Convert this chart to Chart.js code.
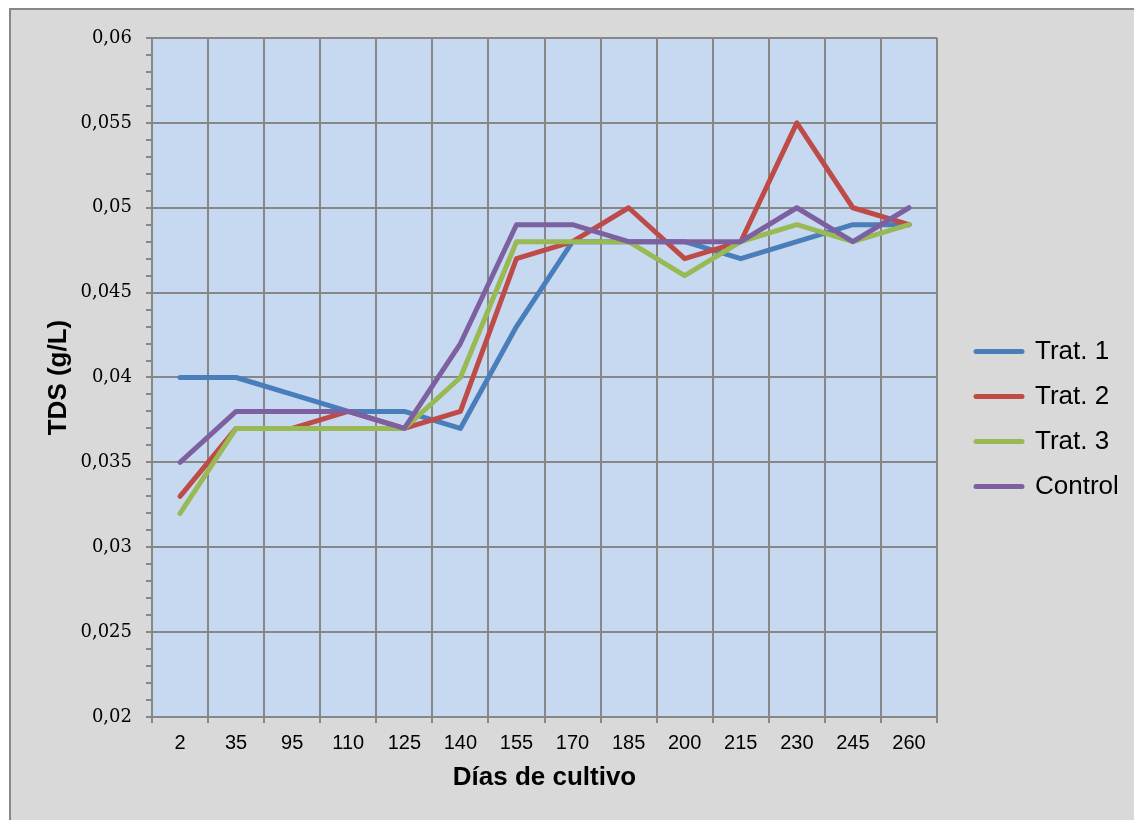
<!DOCTYPE html>
<html>
<head>
<meta charset="utf-8">
<title>TDS (g/L) – Días de cultivo</title>
<script src="https://cdn.jsdelivr.net/npm/chart.js@4.4.1/dist/chart.umd.min.js"></script>
<style>
  html, body { margin: 0; padding: 0; background: #ffffff; }
  #wrap { position: relative; width: 1134px; height: 820px; }
</style>
</head>
<body>
<div id="wrap"><canvas id="c" width="1134" height="820"></canvas></div>
<script>
// Días de cultivo (category axis)
const dias = ['2', '35', '95', '110', '125', '140', '155', '170', '185', '200', '215', '230', '245', '260'];

// TDS (g/L) per treatment
const trat1   = [0.040, 0.040, 0.039, 0.038, 0.038, 0.037, 0.043, 0.048, 0.048, 0.048, 0.047, 0.048, 0.049, 0.049];
const trat2   = [0.033, 0.037, 0.037, 0.038, 0.037, 0.038, 0.047, 0.048, 0.050, 0.047, 0.048, 0.055, 0.050, 0.049];
const trat3   = [0.032, 0.037, 0.037, 0.037, 0.037, 0.040, 0.048, 0.048, 0.048, 0.046, 0.048, 0.049, 0.048, 0.049];
const control = [0.035, 0.038, 0.038, 0.038, 0.037, 0.042, 0.049, 0.049, 0.048, 0.048, 0.048, 0.050, 0.048, 0.050];

// Y axis: labelled major ticks every 0.005, minor marks every 0.001
const yMin = 0.02, yMax = 0.06, yMinorStep = 0.001, minorPerMajor = 5;
const yTickLabels = ['0,02', '0,025', '0,03', '0,035', '0,04', '0,045', '0,05', '0,055', '0,06'];

const GRID = '#878787';
const FRAME_BG = '#d9d9d9';
const PLOT_BG = '#c6d9f1';

// Outer frame and plot background
const backgrounds = {
  id: 'backgrounds',
  beforeDraw(chart) {
    const { ctx, width, height, chartArea } = chart;
    ctx.save();
    ctx.fillStyle = '#ffffff';
    ctx.fillRect(0, 0, width, height);
    ctx.fillStyle = FRAME_BG;
    ctx.fillRect(9, 8, width - 9, height - 8);
    ctx.strokeStyle = GRID;
    ctx.lineWidth = 2;
    ctx.beginPath();
    ctx.moveTo(10, height);
    ctx.lineTo(10, 9);
    ctx.lineTo(width, 9);
    ctx.stroke();
    ctx.fillStyle = PLOT_BG;
    ctx.fillRect(chartArea.left, chartArea.top, chartArea.right - chartArea.left, chartArea.bottom - chartArea.top);
    ctx.restore();
  }
};

// Legend box: fixed width beside the plot, entries nudged into place
const LEGEND_WIDTH = 197;
const legendPlacement = {
  id: 'legendPlacement',
  afterInit(chart) {
    const legend = chart.legend;
    const fit = legend.fit;
    legend.fit = function () {
      fit.call(this);
      this.width = LEGEND_WIDTH;
    };
  },
  afterLayout(chart) {
    const legend = chart.legend;
    legend.left += 20;
    legend.right += 20;
    legend.top -= 10;
    legend.bottom -= 10;
  }
};

function series(label, data, color, order) {
  return {
    label, data, order,
    borderColor: color,
    backgroundColor: color,
    borderWidth: 5,
    borderCapStyle: 'round',
    borderJoinStyle: 'round',
    pointRadius: 0,
    pointHoverRadius: 0,
    tension: 0,
    fill: false
  };
}

new Chart(document.getElementById('c'), {
  type: 'line',
  data: {
    labels: dias,
    datasets: [
      series('Trat. 1', trat1, '#4a7ebb', 3),
      series('Trat. 2', trat2, '#be4b48', 2),
      series('Trat. 3', trat3, '#98b954', 1),
      series('Control', control, '#7d60a0', 0)
    ]
  },
  options: {
    responsive: false,
    animation: false,
    events: [],
    layout: { padding: { top: 38, right: 0, bottom: 0, left: 0 } },
    plugins: {
      tooltip: { enabled: false },
      legend: {
        position: 'right',
        align: 'center',
        labels: {
          usePointStyle: true,
          pointStyle: 'line',
          pointStyleWidth: 46,
          boxHeight: 26,
          padding: 19,
          color: '#000000',
          font: { family: '"Liberation Sans", Arial, sans-serif', size: 26 },
          sort: (a, b) => a.datasetIndex - b.datasetIndex,
          generateLabels(chart) {
            return Chart.defaults.plugins.legend.labels.generateLabels(chart).map(item => {
              item.lineCap = 'round';
              item.lineWidth = 5;
              return item;
            });
          }
        }
      }
    },
    scales: {
      x: {
        type: 'category',
        offset: true,
        afterFit(scale) { scale.height = 103; },
        grid: {
          offset: true,
          color: GRID,
          lineWidth: 2,
          tickLength: 6,
          tickColor: GRID,
          tickWidth: 2
        },
        border: { color: GRID, width: 2 },
        ticks: {
          color: '#000000',
          padding: 8,
          maxRotation: 0,
          autoSkip: false,
          font: { family: '"Liberation Sans", Arial, sans-serif', size: 20 }
        },
        title: {
          display: true,
          text: 'Días de cultivo',
          color: '#000000',
          padding: { top: 0, bottom: 27 },
          font: { family: '"Liberation Sans", Arial, sans-serif', size: 26, weight: 'bold' }
        }
      },
      y: {
        min: yMin,
        max: yMax,
        afterFit(scale) { scale.width = 152; },
        afterBuildTicks(scale) {
          const count = Math.round((yMax - yMin) / yMinorStep);
          const ticks = [];
          for (let i = 0; i <= count; i++) {
            ticks.push({ value: +(yMin + i * yMinorStep).toFixed(3) });
          }
          scale.ticks = ticks;
        },
        grid: {
          color: (c) => (c.index % minorPerMajor === 0 ? GRID : 'rgba(0,0,0,0)'),
          lineWidth: 2,
          tickLength: 6,
          tickColor: GRID,
          tickWidth: 2
        },
        border: { color: GRID, width: 2 },
        ticks: {
          color: '#000000',
          padding: 14,
          autoSkip: false,
          font: { family: '"DejaVu Serif", serif', size: 18 },
          callback: (value, index) => (index % minorPerMajor === 0 ? yTickLabels[index / minorPerMajor] : '')
        },
        title: {
          display: true,
          text: 'TDS (g/L)',
          color: '#000000',
          padding: { top: 43, bottom: 0 },
          font: { family: '"Liberation Sans", Arial, sans-serif', size: 26, weight: 'bold' }
        }
      }
    }
  },
  plugins: [backgrounds, legendPlacement]
});
</script>
</body>
</html>
